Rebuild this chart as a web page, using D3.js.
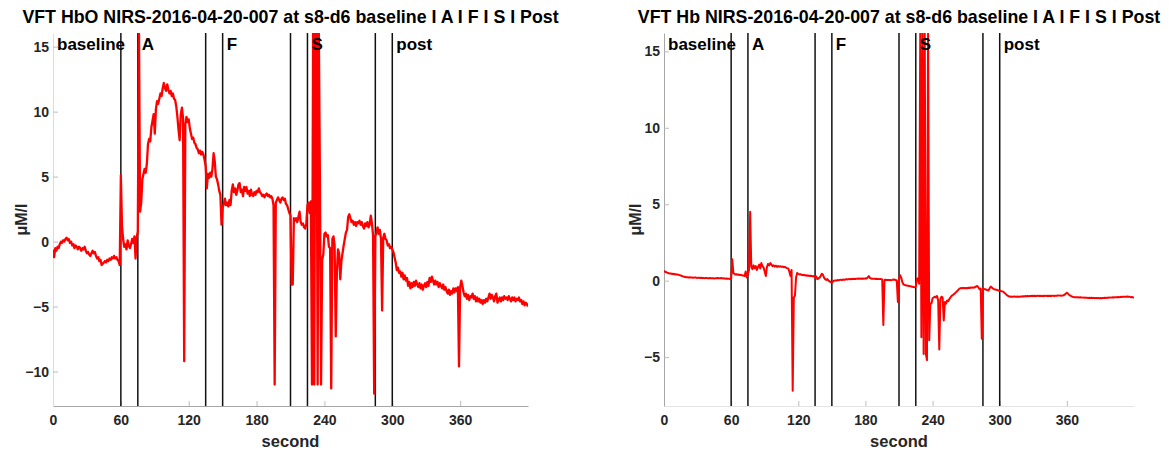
<!DOCTYPE html>
<html>
<head>
<meta charset="utf-8">
<script src="https://cdn.jsdelivr.net/npm/d3@7"></script>
<style>
  html, body { margin: 0; padding: 0; background: #fff; }
  svg { display: block; font-family: "Liberation Sans", Arial, sans-serif; }
</style>
</head>
<body>
<svg id="chart" width="1169" height="450"></svg>
<script>
// ---------------- data ----------------
const SAMPLE_STEP = 1; // seconds between samples
const titles = [
  "VFT HbO NIRS-2016-04-20-007 at s8-d6 baseline I A I F I S I Post",
  "VFT Hb NIRS-2016-04-20-007 at s8-d6 baseline I A I F I S I Post"
];
const xTickValues = [0, 60, 120, 180, 240, 300, 360];
const hboYTicks = [-10, -5, 0, 5, 10, 15];
const hbYTicks = [-5, 0, 5, 10, 15];
const phaseNames = ["baseline", "A", "F", "S", "post"];
const phaseStarts = [0, 75, 150, 225, 300];
const eventLines = [60, 75, 135, 150, 210, 225, 285, 300];
const xLabel = "second";
const yLabel = "μM/l";

// HbO (µM/l), one sample per second, t = 0..420
const hboValues = [
  -0.6,-1.2,-0.5,-0.7,-0.4,-0.5,-0.2,0.0,-0.1,0.1,
  0.0,0.2,0.3,0.1,0.2,-0.1,0.0,-0.3,-0.2,-0.5,
  -0.3,-0.4,-0.6,-0.4,-0.5,-0.7,-0.5,-0.6,-0.4,-0.7,
  -0.9,-0.8,-1.0,-1.1,-0.9,-0.7,-0.9,-0.8,-1.1,-1.3,
  -1.2,-1.5,-1.4,-1.8,-1.7,-1.6,-1.5,-1.6,-1.4,-1.5,
  -1.3,-1.4,-1.2,-1.3,-1.1,-1.3,-1.2,-1.4,-1.5,-1.8,
  5.1,1.2,0.2,-0.4,-0.2,-0.6,0.1,-0.3,-0.5,-0.2,
  0.2,-0.1,0.4,-1.3,0.3,0.8,16.5,2.3,3.0,4.8,
  5.2,5.6,5.3,6.0,7.5,7.9,7.7,8.8,9.3,9.8,
  8.3,10.2,10.8,10.6,11.0,11.4,11.2,11.8,12.2,11.8,
  11.6,12.1,11.7,11.4,11.6,11.2,11.4,11.0,10.9,10.4,
  9.6,8.6,7.8,9.8,10.3,9.5,-9.2,9.0,9.6,9.2,
  9.4,8.7,8.3,7.9,8.0,7.6,7.5,7.2,7.1,6.8,
  7.0,6.7,6.9,6.7,6.3,5.8,4.1,5.2,4.9,5.3,
  5.0,5.6,6.8,6.2,5.0,4.8,4.4,3.9,3.6,1.3,
  2.6,2.9,3.3,2.8,3.0,2.7,3.2,2.8,3.9,4.4,
  3.8,4.1,3.6,3.9,4.4,4.5,3.8,4.0,3.5,4.2,
  3.9,4.2,3.7,3.9,3.5,4.0,3.6,3.5,3.8,3.6,
  3.9,3.8,4.1,3.8,3.7,3.5,3.6,3.4,3.6,3.7,
  3.5,3.6,3.4,3.5,3.3,2.8,-11.0,3.0,3.2,3.4,
  3.2,3.0,3.3,3.4,3.2,3.3,2.9,2.8,2.5,2.2,
  2.0,-3.3,-3.3,1.8,1.6,1.8,1.5,1.9,2.3,1.5,
  1.3,1.4,1.1,1.0,1.4,2.8,3.0,2.2,3.1,-11.0,
  16.5,-11.0,16.5,16.5,-11.0,16.5,5.0,-11.0,-1.4,-1.0,
  0.6,0.7,0.4,0.5,-0.4,-0.5,-11.3,0.2,0.4,-0.3,
  -7.3,-2.4,-0.6,-0.9,-2.9,-1.5,-0.9,-0.3,0.2,0.7,
  0.9,1.9,2.1,1.8,1.5,1.6,1.3,1.5,1.2,1.5,
  1.4,1.6,1.3,1.5,1.2,1.0,1.4,1.2,1.5,1.1,
  1.3,2.0,1.4,0.5,-11.7,0.4,0.7,1.1,0.6,0.9,
  0.2,-5.3,0.3,0.6,0.2,0.1,-0.3,-0.2,-0.5,-0.4,
  -0.6,-0.8,-1.2,-1.6,-2.2,-2.0,-2.4,-2.3,-2.7,-2.4,
  -2.9,-2.6,-3.0,-2.8,-3.4,-3.1,-3.6,-3.2,-3.5,-3.1,
  -3.4,-3.0,-3.3,-3.5,-3.2,-3.6,-3.3,-3.7,-3.4,-3.2,
  -3.5,-3.1,-3.4,-2.8,-3.1,-2.7,-3.0,-3.3,-3.0,-3.3,
  -3.1,-3.5,-3.2,-3.4,-3.6,-3.3,-3.7,-3.5,-3.8,-4.0,
  -3.7,-4.1,-3.8,-4.0,-3.6,-3.9,-3.6,-3.8,-3.5,-9.6,
  -3.5,-3.0,-3.4,-3.9,-4.2,-4.0,-4.4,-4.1,-4.5,-4.2,
  -4.3,-4.0,-4.4,-4.2,-4.6,-4.3,-4.6,-4.4,-4.7,-4.5,
  -4.8,-4.5,-4.7,-4.4,-4.6,-4.3,-4.0,-4.4,-4.1,-4.3,
  -4.6,-4.2,-4.0,-4.7,-4.5,-4.3,-4.6,-4.3,-4.5,-4.2,
  -4.4,-4.3,-4.5,-4.2,-4.4,-4.6,-4.3,-4.5,-4.3,-4.6,
  -4.4,-4.5,-4.3,-4.6,-4.5,-4.8,-4.6,-4.9,-4.7,-4.8,-5.0
];

// Hb (µM/l), one sample per second, t = 0..420
const hbValues = [
  0.65,0.58,0.55,0.52,0.5,0.46,0.47,0.44,0.45,0.42,
  0.43,0.4,0.41,0.38,0.36,0.34,0.3,0.28,0.26,0.24,
  0.22,0.23,0.21,0.22,0.2,0.21,0.19,0.2,0.21,0.19,
  0.18,0.2,0.18,0.19,0.17,0.18,0.16,0.17,0.18,0.16,
  0.15,0.17,0.16,0.15,0.16,0.14,0.15,0.16,0.17,0.15,
  0.16,0.17,0.15,0.14,0.15,0.13,0.14,0.12,0.13,0.11,
  0.1,1.4,0.5,0.44,0.4,0.42,0.38,0.4,0.36,0.38,
  0.34,0.33,0.3,0.6,0.2,0.45,0.7,4.5,0.9,0.75,
  1.0,0.8,0.95,0.7,0.9,1.05,0.8,1.15,0.95,0.85,
  0.6,0.3,0.9,1.1,1.0,1.15,1.05,0.95,1.0,0.92,
  0.98,0.9,0.95,0.92,0.94,0.9,0.92,0.88,0.9,0.85,
  0.82,0.8,0.6,0.3,0.7,-7.2,-1.1,-1.0,0.2,0.5,
  0.45,0.4,0.42,0.38,0.36,0.38,0.34,0.35,0.32,0.33,
  0.3,0.32,0.3,0.28,0.3,0.2,0.28,0.1,0.15,0.2,
  0.3,0.45,0.4,0.2,0.1,0.05,0.1,0.0,-0.05,-0.1,
  -0.12,-0.05,0.0,0.02,0.0,0.04,0.02,0.05,0.06,0.04,
  0.07,0.05,0.08,0.1,0.08,0.1,0.11,0.09,0.12,0.1,
  0.12,0.11,0.13,0.12,0.14,0.13,0.14,0.12,0.14,0.13,
  0.15,0.14,0.2,0.3,0.18,0.14,0.13,0.12,0.13,0.11,
  0.12,0.1,0.11,0.1,0.1,0.08,-2.9,0.05,0.06,0.04,
  0.05,0.04,0.05,0.03,0.05,0.08,0.06,0.04,0.02,-1.4,
  0.1,0.35,0.2,-0.1,-0.25,-0.28,-0.3,-0.32,-0.34,-0.35,
  -0.36,-0.38,-0.4,-0.42,-0.43,-0.38,0.1,0.16,-0.2,16.5,
  -3.7,16.5,-4.8,16.5,-4.8,-5.2,16.5,-3.9,-1.5,-1.5,
  -1.15,-1.1,-1.05,-1.1,-1.0,-1.3,-4.5,-1.2,-1.05,-1.1,
  -2.6,-1.4,-1.5,-1.3,-1.35,-1.2,-1.1,-1.0,-0.95,-0.88,
  -0.83,-0.75,-0.68,-0.6,-0.52,-0.5,-0.48,-0.5,-0.47,-0.5,
  -0.48,-0.5,-0.46,-0.48,-0.45,-0.47,-0.44,-0.46,-0.42,-0.38,
  -0.35,-0.45,-0.56,-0.52,-3.8,-0.5,-0.55,-0.56,-0.6,-0.62,
  -0.65,-0.5,-0.39,-0.45,-0.52,-0.56,-0.58,-0.6,-0.62,-0.64,
  -0.66,-0.68,-0.7,-0.72,-0.78,-0.85,-0.92,-0.98,-1.02,-1.05,
  -1.04,-1.06,-1.05,-1.03,-1.06,-1.05,-1.04,-1.06,-1.05,-1.03,
  -1.04,-1.02,-1.03,-1.01,-1.02,-1.0,-1.02,-1.0,-1.01,-0.99,
  -1.0,-0.99,-1.01,-1.0,-0.98,-1.0,-0.99,-1.01,-1.0,-0.99,
  -1.0,-0.98,-1.0,-0.99,-1.01,-0.99,-1.0,-0.98,-0.99,-1.0,
  -0.98,-0.99,-0.97,-0.98,-0.97,-0.99,-0.98,-0.96,-0.92,-0.85,
  -0.8,-0.85,-0.92,-0.98,-1.02,-1.05,-1.07,-1.08,-1.09,-1.08,
  -1.09,-1.1,-1.09,-1.1,-1.11,-1.1,-1.12,-1.11,-1.12,-1.13,
  -1.12,-1.13,-1.12,-1.14,-1.13,-1.14,-1.15,-1.13,-1.14,-1.15,
  -1.14,-1.15,-1.13,-1.14,-1.12,-1.13,-1.11,-1.12,-1.1,-1.11,
  -1.1,-1.09,-1.1,-1.08,-1.09,-1.08,-1.07,-1.08,-1.06,-1.07,
  -1.06,-1.05,-1.06,-1.05,-1.04,-1.05,-1.06,-1.08,-1.07,-1.09,-1.1
];

// ---------------- drawing ----------------
const svg = d3.select("#chart");

const panels = [
  { id: "hbo", values: hboValues, title: titles[0], yTicks: hboYTicks,
    left: 53, right: 528, top: 33, bottom: 406, yDomain: [-12.65, 16.05],
    yLabelX: 21, xAxisColor: "#a6a6a6", yAxisColor: "#dcdcdc", lineWidth: 2.3 },
  { id: "hb", values: hbValues, title: titles[1], yTicks: hbYTicks,
    left: 664, right: 1134, top: 33, bottom: 406, yDomain: [-8.2, 16.2],
    yLabelX: 635, xAxisColor: "#e4e4e4", yAxisColor: "#a6a6a6", lineWidth: 2 }
];

const tickColor = "#262626";

panels.forEach(p => {
  const x = d3.scaleLinear().domain([0, 420]).range([p.left, p.right]);
  const y = d3.scaleLinear().domain(p.yDomain).range([p.bottom, p.top]);
  const g = svg.append("g");

  g.append("clipPath").attr("id", "clip-" + p.id)
    .append("rect").attr("x", p.left).attr("y", p.top)
    .attr("width", p.right - p.left).attr("height", p.bottom - p.top);

  const xAxis = d3.axisBottom(x).tickValues(xTickValues).tickSizeInner(-5).tickSizeOuter(0).tickPadding(9);
  const gx = g.append("g").attr("transform", `translate(0,${p.bottom})`).call(xAxis);
  gx.select(".domain").attr("stroke", p.xAxisColor).attr("stroke-width", 1);
  gx.selectAll(".tick line").attr("stroke", "#bdbdbd");
  gx.selectAll(".tick text").attr("fill", tickColor)
    .style("font-size", "14px").style("font-weight", "bold")
    .style("font-family", "'Liberation Sans', Arial, sans-serif");

  const yAxis = d3.axisLeft(y).tickValues(p.yTicks).tickSizeInner(-5).tickSizeOuter(0).tickPadding(4);
  const gy = g.append("g").attr("transform", `translate(${p.left},0)`).call(yAxis);
  gy.select(".domain").attr("stroke", p.yAxisColor).attr("stroke-width", 1);
  gy.selectAll(".tick line").attr("stroke", "#bdbdbd");
  gy.selectAll(".tick text").attr("fill", tickColor)
    .style("font-size", "14px").style("font-weight", "bold")
    .style("font-family", "'Liberation Sans', Arial, sans-serif");

  g.append("g").selectAll("line").data(eventLines).join("line")
    .attr("x1", d => x(d)).attr("x2", d => x(d))
    .attr("y1", p.top).attr("y2", p.bottom)
    .attr("stroke", "#111").attr("stroke-width", 1.5);

  const line = d3.line()
    .x((d, i) => x(i * SAMPLE_STEP))
    .y(d => y(d));
  g.append("path")
    .attr("clip-path", `url(#clip-${p.id})`)
    .datum(p.values)
    .attr("d", line)
    .attr("fill", "none")
    .attr("stroke", "#ff0000")
    .attr("stroke-width", p.lineWidth)
    .attr("stroke-linejoin", "round");

  g.append("g").selectAll("text").data(phaseNames).join("text")
    .attr("x", (d, i) => x(phaseStarts[i]) + 4)
    .attr("y", 50)
    .attr("fill", "#000")
    .style("font-size", "17px").style("font-weight", "bold")
    .text(d => d);

  g.append("text")
    .attr("x", (p.left + p.right) / 2).attr("y", 23)
    .attr("text-anchor", "middle").attr("fill", "#000")
    .style("font-size", "17.8px").style("font-weight", "bold")
    .text(p.title);

  g.append("text")
    .attr("x", (p.left + p.right) / 2).attr("y", 447)
    .attr("text-anchor", "middle").attr("fill", tickColor)
    .style("font-size", "16.5px").style("font-weight", "bold")
    .text(xLabel);

  g.append("text")
    .attr("transform", `translate(${p.yLabelX},${(p.top + p.bottom) / 2}) rotate(-90)`)
    .attr("text-anchor", "middle").attr("dy", "0.35em").attr("fill", tickColor)
    .style("font-size", "16px").style("font-weight", "bold")
    .text(yLabel);
});
</script>
</body>
</html>
